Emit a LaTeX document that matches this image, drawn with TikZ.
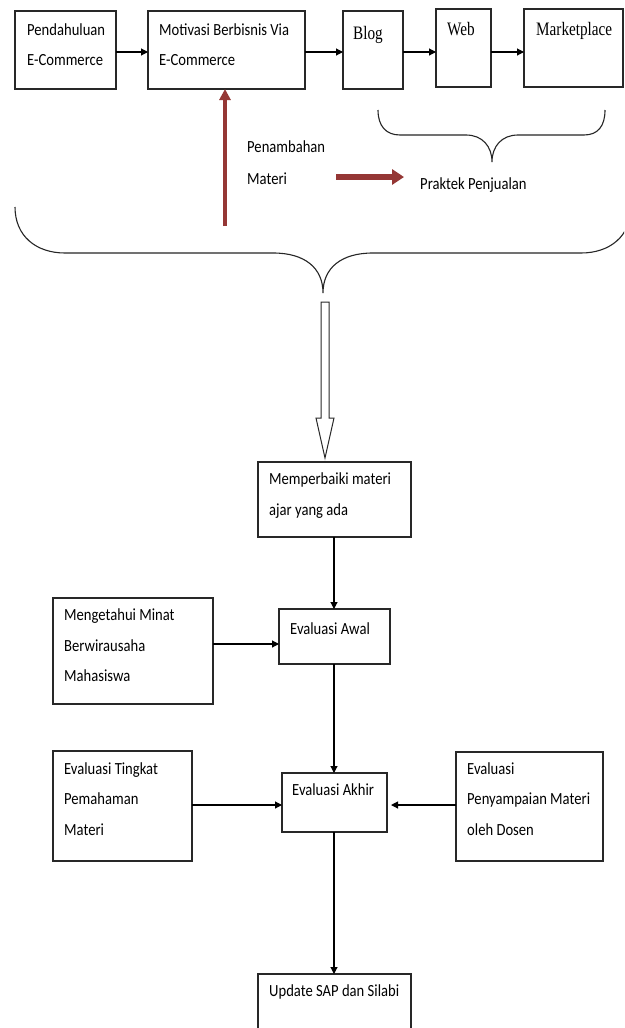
\documentclass[tikz,border=0pt]{standalone}
\usepackage{fontspec}
\usetikzlibrary{arrows.meta,calc}
\newfontfamily\calfont[FakeStretch=0.86]{Carlito}
\newfontfamily\serfont[FakeStretch=0.8]{Liberation Serif}
\definecolor{darkred}{RGB}{149,55,53}
\definecolor{linegray}{RGB}{40,40,40}
\tikzset{
  box/.style={draw=linegray, line width=1.1pt, inner sep=0pt, outer sep=0pt},
  lbl/.style={anchor=mid west, inner sep=0pt, font=\calfont\fontsize{17}{19}\selectfont},
  slbl/.style={anchor=mid west, inner sep=0pt, font=\serfont\fontsize{19}{21}\selectfont},
  arr/.style={draw=black, line width=1.1pt, -{Triangle[length=7pt,width=7pt]}},
  redv/.style={draw=darkred, line width=4pt, -{Triangle[length=11pt,width=11pt]}},
  redh/.style={draw=darkred, line width=6pt, -{Triangle[length=12pt,width=15pt]}},
  brace/.style={draw=black!85, line width=1.1pt},
}
\begin{document}
\begin{tikzpicture}[x=1pt,y=-1pt]
\useasboundingbox (0,0) rectangle (624,1028);
\clip (0,0) rectangle (624,1028);
\fill[white] (0,0) rectangle (624,1028);

% top row boxes
\node[box, minimum width=101pt, minimum height=78pt] (pend) at (65.5,50) {};
\node[box, minimum width=157pt, minimum height=78pt] (motiv) at (226.5,50) {};
\node[box, minimum width=60pt, minimum height=78pt] (blog) at (373,50) {};
\node[box, minimum width=55pt, minimum height=78pt] (web) at (463.5,48) {};
\node[box, minimum width=99pt, minimum height=78pt] (market) at (573.5,48) {};

\node[lbl] (t1a) at (27,33) {Pendahuluan};
\node[lbl] (t1b) at (27,63) {E-Commerce};
\node[lbl] (t2a) at (159,33) {Motivasi Berbisnis Via};
\node[lbl] (t2b) at (159,63) {E-Commerce};
\node[slbl] (t3) at (353,37) {Blog};
\node[slbl] (t4) at (447,33) {Web};
\node[slbl] (t5) at (536,33) {Marketplace};

\draw[arr] ([yshift=-2pt]pend.east) -- ([yshift=-2pt]motiv.west);
\draw[arr] ([yshift=-2pt]motiv.east) -- ([yshift=-2pt]blog.west);
\draw[arr] ([yshift=-2pt]blog.east) -- ([yshift=-2pt]blog.east -| web.west);
\draw[arr] ([yshift=-2pt]blog.east -| web.east) -- ([yshift=-2pt]blog.east -| market.west);

% small brace
\draw[brace] (378,110) .. controls (378,126) and (386,135) .. (400,135)
  -- (466,135) .. controls (482,135) and (492,146) .. (492,162)
  .. controls (492,146) and (502,135) .. (518,135)
  -- (584,135) .. controls (598,135) and (605,126) .. (605,110);
\node[lbl] (prak) at (420,187) {Praktek Penjualan};

% red arrows
\coordinate (redstart) at (225,226);
\draw[redv] (redstart) -- (redstart |- motiv.south);
\node[lbl] (pen1) at (247,150) {Penambahan};
\node[lbl] (pen2) at (247,182) {Materi};
\coordinate (rh1) at (336,177);
\coordinate (rh2) at (404,177);
\draw[redh] (rh1) -- (rh2);

% big brace
\draw[brace] (15,207) .. controls (15,236) and (36,253) .. (65,253)
  -- (273,253) .. controls (305,253) and (323,268) .. (323,293)
  .. controls (323,268) and (341,253) .. (373,253)
  -- (581,253) .. controls (610,253) and (631,236) .. (631,207);

% hollow arrow
\node[box, minimum width=153pt, minimum height=75pt] (memp) at (334.5,499.5) {};
\draw[draw=linegray, line width=1pt, fill=white]
  (321,302) -- (329,302) -- (329,418) -- (334,418) -- (325,458) -- (316,418) -- (321,418) -- cycle;
\coordinate (hollowtip) at (325,458);
\node[lbl] (m1) at (269,482) {Memperbaiki materi};
\node[lbl] (m2) at (269,513) {ajar yang ada};

% evaluasi awal
\node[box, minimum width=111pt, minimum height=55pt] (awal) at (334.5,636.5) {};
\node[lbl] (aw) at (290,632) {Evaluasi Awal};
\node[box, minimum width=160pt, minimum height=106pt] (ment) at (133,651) {};
\node[lbl] (me1) at (64,618) {Mengetahui Minat};
\node[lbl] (me2) at (64,649) {Berwirausaha};
\node[lbl] (me3) at (64,679) {Mahasiswa};
\draw[arr] ([xshift=-0.5pt]memp.south) -- ([xshift=-0.5pt]awal.north);
\draw[arr] ([yshift=7pt]ment.east) -- ([yshift=-7.5pt]awal.west);

% evaluasi akhir
\node[box, minimum width=105pt, minimum height=59pt] (akhir) at (334.5,802.5) {};
\node[lbl] (ak) at (292,793) {Evaluasi Akhir};
\node[box, minimum width=139pt, minimum height=110pt] (ting) at (122.5,806) {};
\node[lbl] (ti1) at (64,772) {Evaluasi Tingkat};
\node[lbl] (ti2) at (64,802) {Pemahaman};
\node[lbl] (ti3) at (64,833) {Materi};
\node[box, minimum width=147pt, minimum height=109pt] (peny) at (529.5,806.5) {};
\node[lbl] (pe1) at (467,772) {Evaluasi};
\node[lbl] (pe2) at (467,802) {Penyampaian Materi};
\node[lbl] (pe3) at (467,833) {oleh Dosen};
\draw[arr] ([xshift=-0.5pt]awal.south) -- ([xshift=-0.5pt]akhir.north);
\draw[arr] ([yshift=1pt]ting.east) -- ([yshift=1pt]ting.east -| akhir.west);
\draw[arr, shorten >=4pt] ([yshift=1.5pt]peny.west) -- ([yshift=1.5pt]peny.west -| akhir.east);

% update
\node[box, minimum width=153pt, minimum height=66pt] (upd) at (334.5,1007) {};
\node[lbl] (up) at (269,994) {Update SAP dan Silabi};
\draw[arr] ([xshift=-0.5pt]akhir.south) -- ([xshift=-0.5pt]upd.north);
\end{tikzpicture}
\end{document}
